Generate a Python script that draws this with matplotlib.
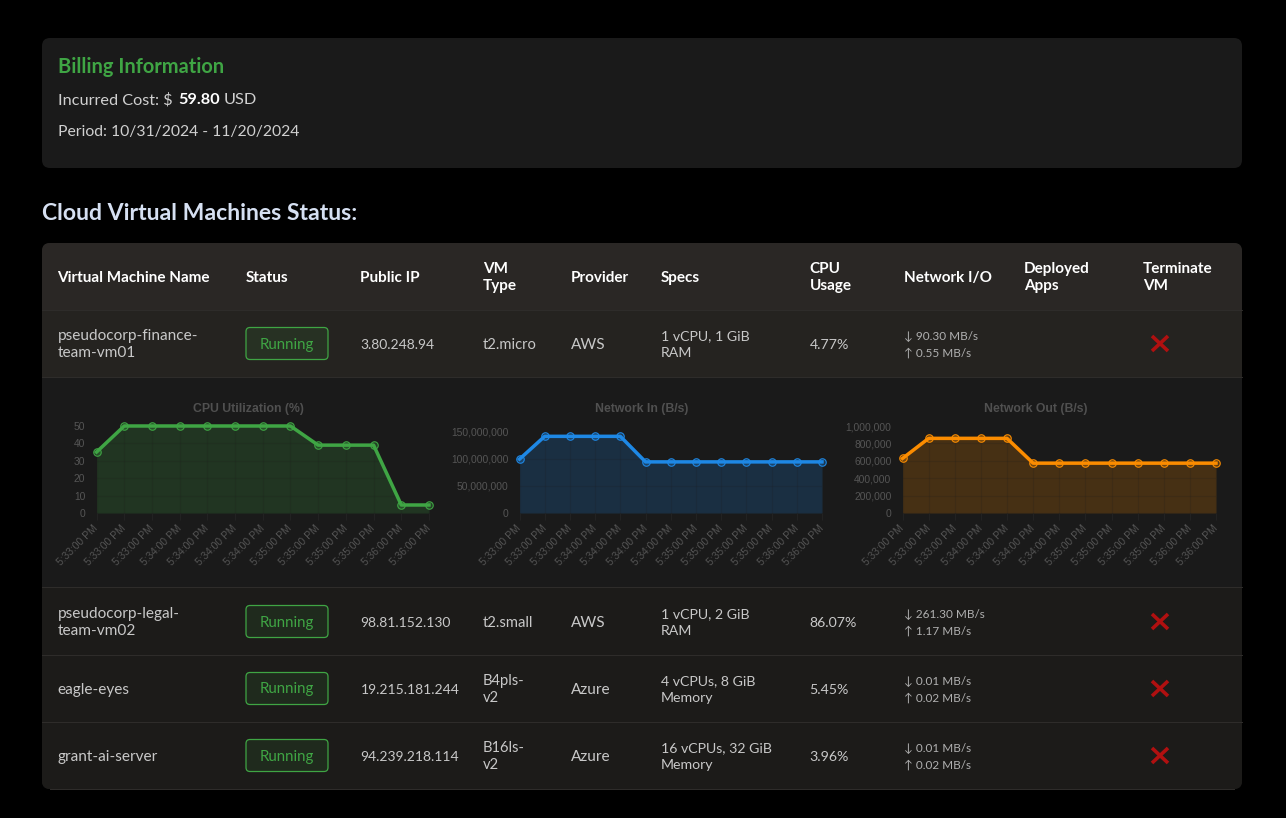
"""
Cloud VM dashboard: billing card, status table and the three metric charts
"""

import matplotlib
matplotlib.use("Agg")
import matplotlib.pyplot as plt
from matplotlib.patches import FancyBboxPatch, Rectangle
from matplotlib.ticker import FuncFormatter, MultipleLocator

W, H = 1286, 818
UI_FONT = ["Lato", "DejaVu Sans"]
CHART_FONT = ["Liberation Sans", "DejaVu Sans"]
LINE_STEP = 17  # px between two lines of a table cell

HOURS = ["5:33:00 PM"] * 3 + ["5:34:00 PM"] * 4 + ["5:35:00 PM"] * 4 + ["5:36:00 PM"] * 2

CHARTS = [
    {"title": "CPU Utilization (%)", "color": "#3fa544", "title_x": 248.5,
     "values": [35, 50, 50, 50, 50, 50, 50, 50, 39, 39, 39, 4.6, 4.6],
     "box": (96.5, 426, 429, 513), "ymax": 50, "step": 10},
    {"title": "Network In (B/s)", "color": "#1e88e5", "title_x": 641.5,
     "values": [99e6, 141e6, 141e6, 141e6, 141e6] + [94e6] * 8,
     "box": (519.5, 426, 822, 513), "ymax": 160e6, "step": 50e6},
    {"title": "Network Out (B/s)", "color": "#fb8c00", "title_x": 1035.5,
     "values": [627e3, 858e3, 858e3, 858e3, 858e3] + [573e3] * 8,
     "box": (902.5, 426, 1216, 513), "ymax": 1e6, "step": 200e3},
]

COLUMNS = [57.5, 246, 360.5, 483, 571, 661, 809.5, 904, 1024, 1143]
HEADERS = ["Virtual Machine Name", "Status", "Public IP", "VM\nType", "Provider", "Specs",
           "CPU\nUsage", "Network I/O", "Deployed\nApps", "Terminate\nVM"]

ROWS = [
    {"y": 343.5, "name": "pseudocorp-finance-\nteam-vm01", "ip": "3.80.248.94", "type": "t2.micro",
     "provider": "AWS", "specs": "1 vCPU, 1 GiB\nRAM", "cpu": "4.77%", "down": "90.30", "up": "0.55"},
    {"y": 621.5, "name": "pseudocorp-legal-\nteam-vm02", "ip": "98.81.152.130", "type": "t2.small",
     "provider": "AWS", "specs": "1 vCPU, 2 GiB\nRAM", "cpu": "86.07%", "down": "261.30", "up": "1.17"},
    {"y": 688.5, "name": "eagle-eyes", "ip": "19.215.181.244", "type": "B4pls-\nv2",
     "provider": "Azure", "specs": "4 vCPUs, 8 GiB\nMemory", "cpu": "5.45%", "down": "0.01", "up": "0.02"},
    {"y": 755.5, "name": "grant-ai-server", "ip": "94.239.218.114", "type": "B16ls-\nv2",
     "provider": "Azure", "specs": "16 vCPUs, 32 GiB\nMemory", "cpu": "3.96%", "down": "0.01", "up": "0.02"},
]


def px(size):
    return size * 0.72


def card(ax, x0, y0, x1, y1, color, radius=8, zorder=1):
    patch = FancyBboxPatch((x0 + radius, y0 + radius), x1 - x0 - 2 * radius, y1 - y0 - 2 * radius,
                           boxstyle=f"round,pad={radius},rounding_size={radius}",
                           fc=color, ec="none", zorder=zorder)
    ax.add_patch(patch)
    return patch


def label(ax, x, y, s, size=14.5, color="#d0d0d0", weight="normal", ha="left"):
    # y is the baseline of the text
    return ax.text(x, y, s, fontsize=px(size), color=color, fontweight=weight, ha=ha, va="baseline",
                   family=UI_FONT, zorder=5)


def cell(ax, x, y, s, size=14.5, color="#c8c8c8", weight="normal"):
    # one or two lines around the row centre y
    lines = s.split("\n")
    if len(lines) == 1:
        label(ax, x, y + 5.5, s, size, color, weight)
    else:
        for i, line in enumerate(lines):
            label(ax, x, y - 3.5 + i * LINE_STEP, line, size, color, weight)


def draw_billing(ax):
    card(ax, 42, 38, 1242, 168, "#1a1a1a")
    label(ax, 58, 73, "Billing Information", size=20, color="#3fa544", weight="bold")
    label(ax, 58, 104, "Incurred Cost: $ ", size=16.3)
    label(ax, 178.5, 104, "59.80", size=16.3, color="white", weight="bold")
    label(ax, 224, 104, "USD", size=16.3)
    label(ax, 58, 136, "Period: 10/31/2024 - 11/20/2024", size=15.8)
    label(ax, 42, 220.5, "Cloud Virtual Machines Status:", size=23, color="#d6e0f2", weight="bold")


def draw_table(ax):
    clip = card(ax, 42, 243, 1242, 789, "#1c1b19")
    bands = [(243, 310, "#2a2725"), (310, 377, "#252320"), (377, 587, "#1a1a1a"),
             (587, 655, "#1c1b19"), (655, 722, "#1c1b19"), (722, 789, "#1c1b19")]
    for y0, y1, color in bands:
        band = Rectangle((42, y0), 1200, y1 - y0, fc=color, ec="none", zorder=2)
        ax.add_patch(band)
        band.set_clip_path(clip)
    for y in [310, 377, 587, 655, 722]:
        ax.plot([42, 1242], [y, y], color="#2e2c2a", lw=0.75, zorder=3)
    ax.plot([50, 1234], [788.5, 788.5], color="#2e2c2a", lw=0.75, zorder=3)
    ax.plot([0, W], [817.5, 817.5], color="#2a2a2a", lw=0.75, zorder=3)

    for x, head in zip(COLUMNS, HEADERS):
        cell(ax, x, 276.5, head, size=15.2, color="white", weight="bold")

    for row in ROWS:
        y = row["y"]
        cell(ax, 57.5, y, row["name"], size=15.4)
        badge = FancyBboxPatch((250, y - 12), 74, 24, boxstyle="round,pad=4,rounding_size=4",
                               fc="#3fa5441c", ec="#3fa544", lw=0.9, zorder=4)
        ax.add_patch(badge)
        label(ax, 287, y + 5, "Running", size=15, color="#3fa544", ha="center")
        cell(ax, 360.5, y, row["ip"], size=13.9)
        cell(ax, 483, y, row["type"], size=14.8)
        cell(ax, 571, y, row["provider"], size=15.4)
        cell(ax, 661, y, row["specs"], size=14.1)
        cell(ax, 809.5, y, row["cpu"], size=14.1)
        label(ax, 904, y - 3.5, f"↓ {row['down']} MB/s", size=11.8, color="#b0b0b0")
        label(ax, 904, y + 13.5, f"↑ {row['up']} MB/s", size=11.8, color="#b0b0b0")
        ax.plot([1152, 1168], [y - 7.5, y + 7.5], color="#b01010", lw=px(3.6), solid_capstyle="butt", zorder=5)
        ax.plot([1152, 1168], [y + 7.5, y - 7.5], color="#b01010", lw=px(3.6), solid_capstyle="butt", zorder=5)


def draw_chart(fig, spec):
    x0, y0, x1, y1 = spec["box"]
    ax = fig.add_axes([x0 / W, 1 - y1 / H, (x1 - x0) / W, (y1 - y0) / H], zorder=10)
    ax.set_facecolor("none")
    xs = range(len(spec["values"]))
    ax.fill_between(xs, spec["values"], 0, color=spec["color"], alpha=0.2, lw=0, zorder=1)
    ax.plot(xs, spec["values"], color=spec["color"], lw=px(3.5), marker="o", ms=px(7.5),
            mfc=spec["color"] + "44", mec=spec["color"], mew=px(1.1), zorder=3, clip_on=False)

    ax.set_xlim(0, len(spec["values"]) - 1)
    ax.set_ylim(0, spec["ymax"])
    ax.yaxis.set_major_locator(MultipleLocator(spec["step"]))
    ax.yaxis.set_major_formatter(FuncFormatter(lambda v, _: f"{v:,.0f}"))
    ax.set_xticks(list(xs))
    ax.set_xticklabels(HOURS, rotation=45, ha="right", va="center", rotation_mode="anchor")
    ax.grid(True, color="#1c1c1c", alpha=0.18, lw=0.75, zorder=2)
    ax.set_axisbelow(False)
    ax.tick_params(axis="both", length=5, width=0.75, color="#222222", labelcolor="#555555",
                   labelsize=px(10.3), pad=5)
    ax.tick_params(axis="y", length=0, pad=8)
    for lab in ax.get_xticklabels() + ax.get_yticklabels():
        lab.set_family(CHART_FONT)
    for side in ax.spines.values():
        side.set_visible(False)
    fig.text(spec["title_x"] / W, 1 - 409.5 / H, spec["title"], fontsize=px(12.2), fontweight="bold",
             color="#505050", ha="center", va="center", family=CHART_FONT)


def main():
    fig = plt.figure(figsize=(W / 100, H / 100), dpi=100, facecolor="black")
    page = fig.add_axes([0, 0, 1, 1])
    page.set_xlim(0, W)
    page.set_ylim(H, 0)
    page.axis("off")

    draw_billing(page)
    draw_table(page)
    for spec in CHARTS:
        draw_chart(fig, spec)

    fig.savefig("out.png", dpi=100, facecolor="black")


if __name__ == "__main__":
    main()
